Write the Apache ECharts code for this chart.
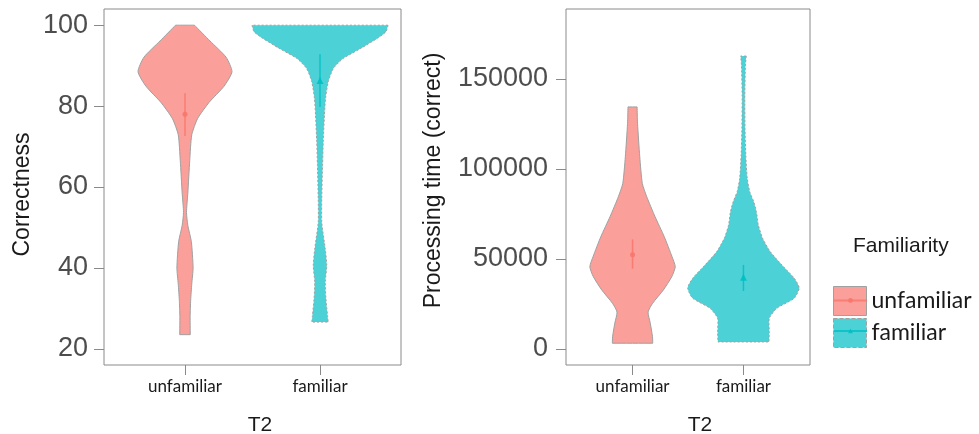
<!DOCTYPE html>
<html><head><meta charset="utf-8">
<script src="https://cdn.jsdelivr.net/npm/echarts@6/dist/echarts.min.js"></script>
<style>html,body{margin:0;padding:0;background:#fff}#c{width:979px;height:434px}</style>
</head><body><div id="c"></div>
<script>
const categories = ['unfamiliar', 'familiar'];
const corrTicks = [20, 40, 60, 80, 100];
const timeTicks = [0, 50000, 100000, 150000];

// Violin profiles: value positions and half-widths (in category units)
const corrUnfY = [100, 96.1, 92.1, 88.5, 84.9, 80.9, 76.9, 72.9, 66.5, 58.5, 53.7, 50.5, 46.5, 40, 36, 32, 28, 23.5];
const corrUnfW = [0.070, 0.185, 0.304, 0.348, 0.289, 0.178, 0.093, 0.050, 0.035, 0.021, 0.011, 0.021, 0.047, 0.060, 0.050, 0.042, 0.038, 0.039];
const corrFamY = [100, 98.4, 96.8, 94.3, 91.8, 89.3, 86.0, 81.9, 77.8, 71.2, 65.4, 57.1, 51.3, 44.7, 40.6, 36.5, 32.4, 28.2, 26.6];
const corrFamW = [0.504, 0.489, 0.426, 0.304, 0.173, 0.099, 0.061, 0.041, 0.033, 0.024, 0.019, 0.013, 0.013, 0.039, 0.050, 0.039, 0.044, 0.056, 0.061];
const timeUnfY = [134500, 125400, 106800, 92000, 84600, 73500, 62400, 51300, 45700, 40200, 32800, 25400, 20500, 14300, 6800, 3200];
const timeUnfW = [0.041, 0.045, 0.065, 0.088, 0.128, 0.203, 0.286, 0.356, 0.385, 0.354, 0.278, 0.181, 0.140, 0.160, 0.180, 0.182];
const timeFamY = [162800, 157800, 141100, 122600, 107800, 94800, 87400, 81800, 76300, 68900, 61500, 54100, 46700, 39300, 33900, 28200, 22600, 17100, 9600, 3900];
const timeFamW = [0.025, 0.018, 0.012, 0.014, 0.021, 0.034, 0.057, 0.093, 0.117, 0.134, 0.173, 0.241, 0.346, 0.458, 0.503, 0.458, 0.301, 0.233, 0.233, 0.230];

// Means and confidence intervals
const corrMean = [78.0, 86.3];
const corrLo = [72.6, 79.8];
const corrHi = [83.2, 92.8];
const timeMean = [52400, 39800];
const timeLo = [44600, 32200];
const timeHi = [60900, 46700];

const fills = ['rgba(248,118,109,0.7)', 'rgba(0,191,196,0.7)'];
const dark = ['#F8766D', '#00BFC4'];
const symbols = ['circle', 'triangle'];
const outline = '#a0a0a0';

function violin(gi, cat, ys, ws) {
  return {
    type: 'custom', name: categories[cat], xAxisIndex: gi, yAxisIndex: gi, z: 2,
    silent: true,
    itemStyle: { color: fills[cat] },
    data: ys.map((y, i) => [cat, y, ws[i]]),
    renderItem: function (params, api) {
      if (params.dataIndex !== 0) return null;
      const right = [], left = [];
      const n = ys.length;
      for (let i = 0; i < n; i++) {
        const pr = api.coord([cat + ws[i], ys[i]]);
        const pl = api.coord([cat - ws[i], ys[i]]);
        const rep = (i === 0 || i === n - 1) ? 2 : 1;
        for (let k = 0; k < rep; k++) { right.push(pr); left.unshift(pl); }
      }
      return {
        type: 'polygon',
        shape: { points: right.concat(left), smooth: 0.2 },
        style: { fill: fills[cat], stroke: outline, lineWidth: 1, lineDash: cat === 1 ? [2, 2] : null }
      };
    }
  };
}

function errBars(gi, lo, hi) {
  return {
    type: 'custom', xAxisIndex: gi, yAxisIndex: gi, z: 4, silent: true,
    data: categories.map((c, i) => [i, lo[i], hi[i]]),
    renderItem: function (params, api) {
      const i = api.value(0);
      const a = api.coord([i, api.value(1)]);
      const b = api.coord([i, api.value(2)]);
      return { type: 'line', shape: { x1: a[0], y1: a[1], x2: b[0], y2: b[1] },
        style: { stroke: dark[i], lineWidth: 1.5, opacity: 0.85 } };
    }
  };
}

function meanPoint(gi, cat, mean) {
  return {
    type: 'line', name: categories[cat] + ' mean', xAxisIndex: gi, yAxisIndex: gi, z: 5,
    data: [[cat, mean]], symbol: symbols[cat], symbolSize: cat === 1 ? 7 : 5,
    showSymbol: true, silent: true,
    itemStyle: { color: dark[cat], opacity: 0.9 },
    lineStyle: { color: dark[cat], width: 1.5, opacity: 0.8 }
  };
}

function xAxis(gi, gap, pad) {
  return {
    type: 'value', gridIndex: gi, min: -0.6, max: 1.6,
    splitLine: { show: false },
    axisLine: { show: false, onZero: false },
    axisTick: { show: true, customValues: [0, 1], length: 10, lineStyle: { color: '#8a8a8a', width: 1 } },
    axisLabel: { customValues: [0, 1], formatter: v => categories[Math.round(v)],
      fontFamily: 'Lato', fontSize: 17, color: '#1a1a1a', margin: 13 },
    name: 'T2', nameLocation: 'middle', nameGap: gap,
    nameTextStyle: { fontFamily: 'Liberation Sans', fontSize: 21, color: '#1a1a1a', padding: [0, 0, 0, pad] }
  };
}

function yAxis(gi, min, max, ticks, name, gap, margin, pad) {
  return {
    type: 'value', gridIndex: gi, min: min, max: max,
    splitLine: { show: false },
    axisLine: { show: false, onZero: false },
    axisTick: { show: true, customValues: ticks, length: 10, lineStyle: { color: '#8a8a8a', width: 1 } },
    axisLabel: { customValues: ticks, formatter: v => String(v),
      fontFamily: 'Liberation Sans', fontSize: 27, color: '#4d4d4d', margin: margin },
    name: name, nameLocation: 'middle', nameGap: gap, nameRotate: 90,
    nameTextStyle: { fontFamily: 'Liberation Sans', fontSize: 23, color: '#1a1a1a', padding: pad }
  };
}

const chart = echarts.init(document.getElementById('c'), null, { renderer: 'canvas' });
chart.setOption({
  animation: false,
  backgroundColor: '#ffffff',
  title: { text: 'Familiarity', left: 848, top: 231,
    textStyle: { fontFamily: 'Liberation Sans', fontSize: 21, fontWeight: 'normal', color: '#1a1a1a' } },
  grid: [
    { left: 104, top: 9, width: 297, height: 356, show: true, borderColor: '#8a8a8a', borderWidth: 1,
      containLabel: false, outerBoundsMode: 'none' },
    { left: 566, top: 9, width: 244, height: 356, show: true, borderColor: '#8a8a8a', borderWidth: 1,
      containLabel: false, outerBoundsMode: 'none' }
  ],
  xAxis: [xAxis(0, 50, 15), xAxis(1, 50, 24)],
  yAxis: [
    yAxis(0, 16, 104, corrTicks, 'Correctness', 70, 16, [0, 15, 0, 0]),
    yAxis(1, -8900, 188900, timeTicks, 'Processing time (correct)', 121, 18, [0, 0, 0, 13])
  ],
  legend: [
    { data: [
        { name: 'unfamiliar', itemStyle: { color: fills[0], borderColor: outline, borderWidth: 1 } },
        { name: 'familiar', itemStyle: { color: fills[1], borderColor: outline, borderWidth: 1, borderType: 'dashed' } }
      ],
      orient: 'vertical', left: 833, top: 286, itemWidth: 33, itemHeight: 29, itemGap: 2, padding: 0,
      icon: 'rect', selectedMode: false,
      textStyle: { fontFamily: 'Lato', fontSize: 23, color: '#1a1a1a' } },
    { data: ['unfamiliar mean', 'familiar mean'],
      orient: 'vertical', left: 833, top: 297.5, itemWidth: 33, itemHeight: 6, itemGap: 25, padding: 0,
      selectedMode: false, formatter: () => '', z: 10 }
  ],
  series: [
    violin(0, 0, corrUnfY, corrUnfW),
    violin(0, 1, corrFamY, corrFamW),
    violin(1, 0, timeUnfY, timeUnfW),
    violin(1, 1, timeFamY, timeFamW),
    errBars(0, corrLo, corrHi),
    errBars(1, timeLo, timeHi),
    meanPoint(0, 0, corrMean[0]),
    meanPoint(0, 1, corrMean[1]),
    meanPoint(1, 0, timeMean[0]),
    meanPoint(1, 1, timeMean[1])
  ]
});
</script></body></html>
